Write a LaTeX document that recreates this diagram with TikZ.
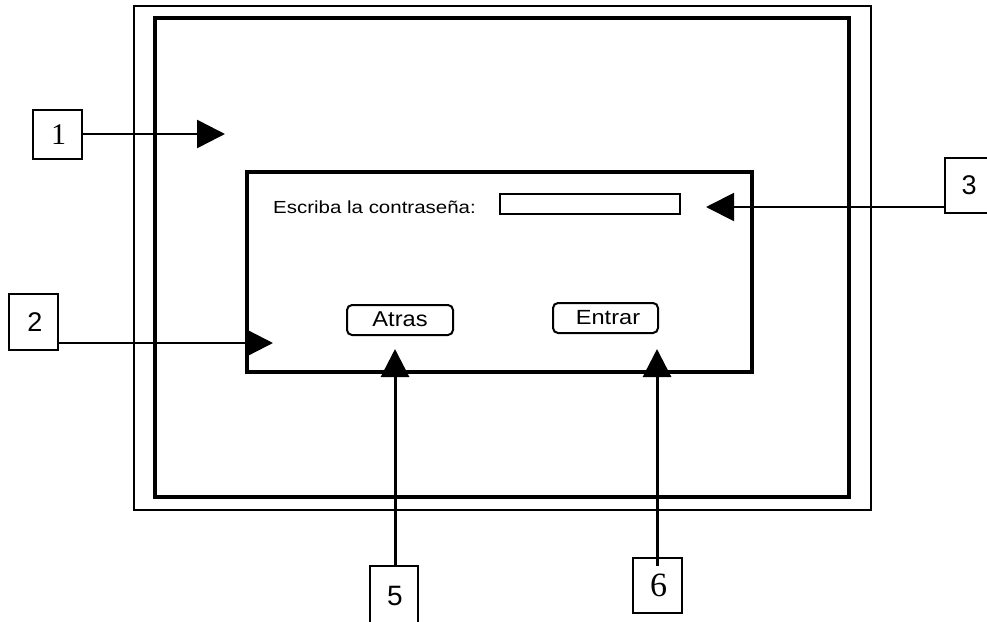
\documentclass[tikz,border=0pt]{standalone}
\usepackage{fontspec}
\setmainfont{Liberation Serif}
\newfontfamily\arialf{Liberation Sans}
\usetikzlibrary{arrows.meta}
\begin{document}
\begin{tikzpicture}[x=1pt,y=-1pt,
  numbox/.style={draw,line width=1.2pt,inner sep=0pt,minimum width=49pt,minimum height=49pt,font=\fontsize{30}{30}\selectfont},
  callout/.style={line width=2.6pt,-{Triangle[length=28pt,width=28pt]}},
  btn/.style={draw,line width=2pt,rounded corners=5pt,inner sep=0pt,font=\arialf}]
\useasboundingbox (0,0) rectangle (987,621);
\clip (0,0) rectangle (987,621);
% frames
\draw[line width=2pt] (134,6) rectangle (871,510);
\draw[line width=4.5pt] (155,18) rectangle (849,497);
\draw[line width=4pt] (247,172) rectangle (752,372);
% dialog content
\node[anchor=base west,inner sep=0pt,font=\arialf\fontsize{17.5}{17.5}\selectfont] (lbl) at (273,213.5) {\scalebox{1.17}[1]{Escriba la contraseña:}};
\node[draw,line width=2pt,minimum width=180pt,minimum height=20pt,inner sep=0pt] (field) at (590,204) {};
\node[btn,minimum width=106pt,minimum height=30pt] (atras) at (400,320) {};
\node[anchor=base,inner sep=0pt,font=\arialf\fontsize{21.5}{21.5}\selectfont] (atrast) at (400,326.5) {\scalebox{1.1}[1]{Atras}};
\node[btn,minimum width=105pt,minimum height=30pt] (entrar) at (605.5,318) {};
\node[anchor=base,inner sep=0pt,font=\arialf\fontsize{20.5}{20.5}\selectfont] (entrart) at (608,324.5) {\scalebox{1.15}[1]{Entrar}};
% number boxes
\node[numbox,minimum height=49pt] (b1) at (57.5,134.5) {\raisebox{-3pt}{\hspace{2pt}1}};
\node[numbox,minimum height=56pt] (b2) at (33.5,322) {\arialf\fontsize{27}{27}\selectfont\hspace{3pt}2};
\node[numbox,minimum width=50pt,minimum height=55pt] (b3) at (970,185.5) {\arialf\fontsize{27}{27}\selectfont\hspace{-2pt}3};
\node[numbox,minimum width=48pt,minimum height=60pt] (b5) at (394,596) {\arialf\fontsize{28}{28}\selectfont\raisebox{-1pt}{\hspace{2pt}5}};
\node[numbox,minimum height=55pt] (b6) at (657.5,585.5) {\fontsize{34}{34}\selectfont\raisebox{-1pt}{\hspace{2pt}6}};
% arrow targets
\coordinate (t1) at (225,134);
\coordinate (t2) at (273,343);
\coordinate (t3) at (706,207);
\coordinate (t5) at (395,349);
\coordinate (t6) at (657,349);
\coordinate (s6) at (657,566);
% arrows
\draw[callout] (b1.east |- t1) -- (t1);
\draw[callout] (b2.east |- t2) -- (t2);
\draw[callout,line width=2pt] (b3.west |- t3) -- (t3);
\draw[callout,line width=3pt] (b5.north -| t5) -- (t5);
\draw[callout,line width=3pt] (s6) -- (t6);
\end{tikzpicture}
\end{document}
